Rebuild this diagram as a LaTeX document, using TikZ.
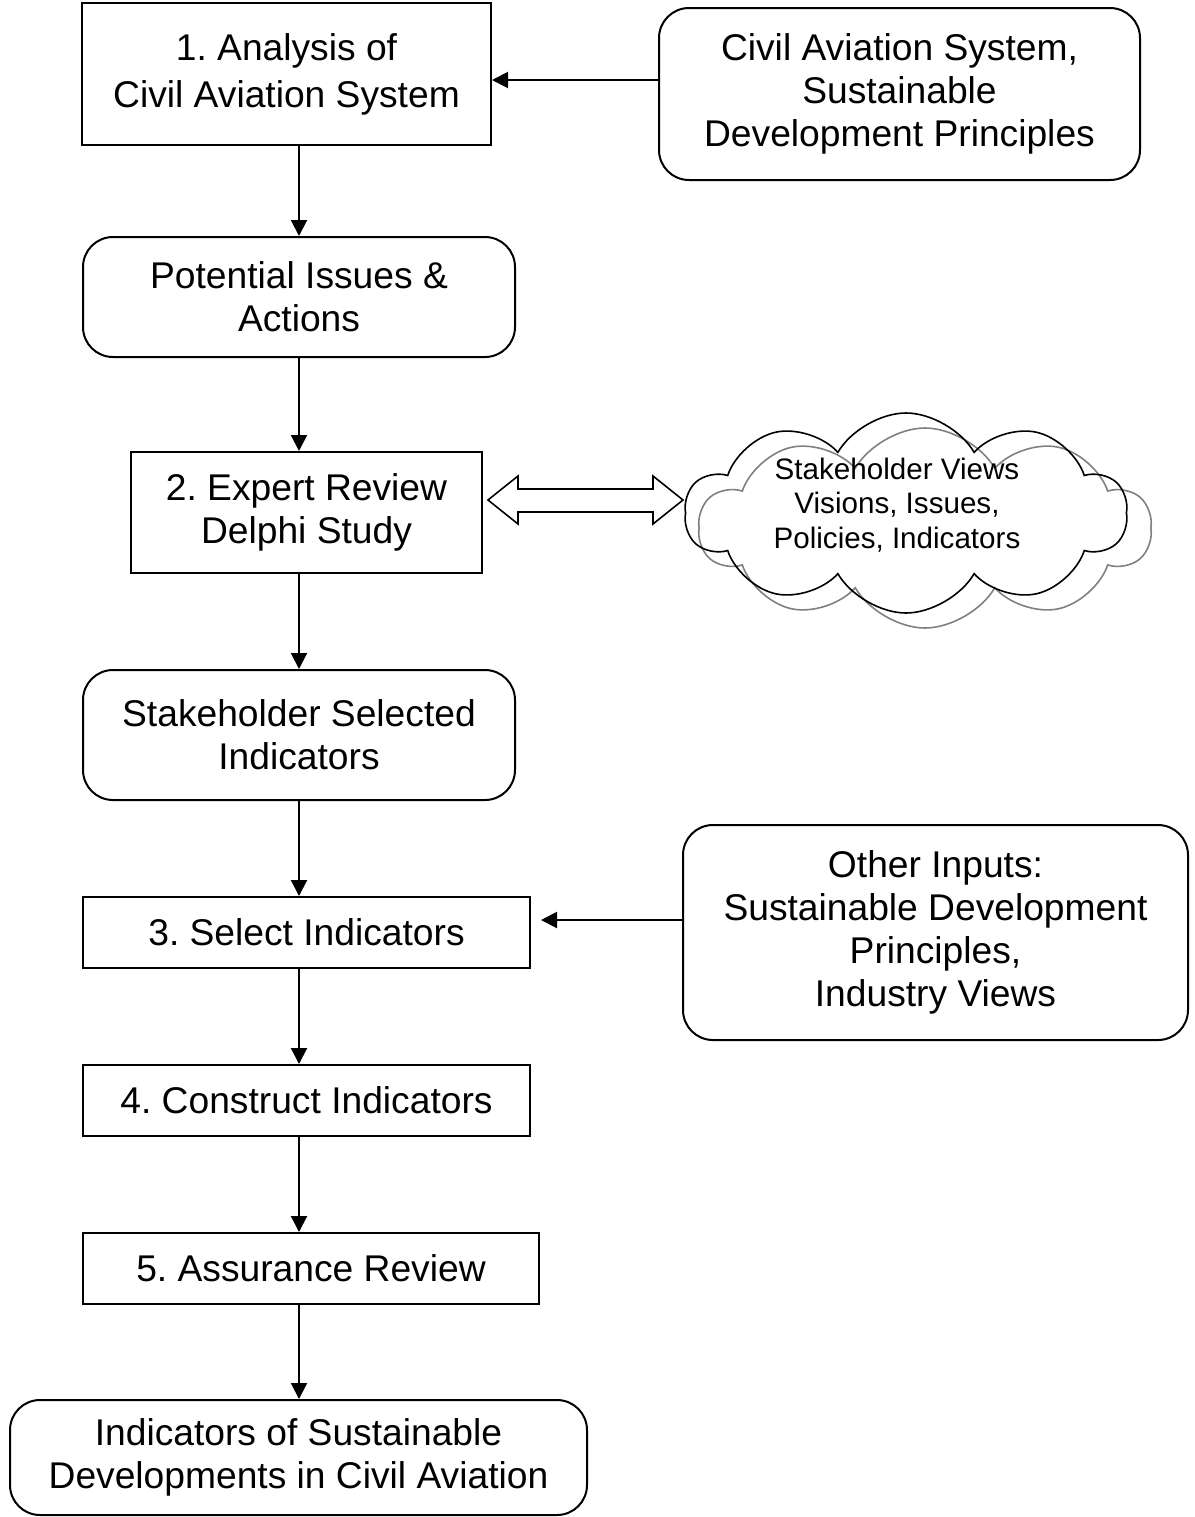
\documentclass[tikz,border=0pt]{standalone}
\usepackage{fontspec}
\setmainfont{Liberation Sans}
\usetikzlibrary{arrows.meta,shapes.symbols,calc}
\frenchspacing
\begin{document}
\begin{tikzpicture}[x=0.5pt,y=-0.5pt,
  box/.style={draw,line width=1pt,inner sep=0pt,align=center,
    font=\fontsize{18.6}{21.5}\selectfont},
  rbox/.style={box,rounded corners=15pt},
  arr/.style={-{Triangle[length=8pt,width=8pt]},line width=1pt},
  cloudshape/.style={cloud,cloud puffs=10,cloud puff arc=120,aspect=2.3,
    inner sep=0pt,line width=0.8pt}]
\useasboundingbox (0,0) rectangle (1195,1517);
\node[box,minimum width=204.5pt,minimum height=71pt,
  font=\fontsize{18.6}{23.5}\selectfont] (b1) at (286.5,74)
  {1. Analysis of\\Civil Aviation System};
\node[rbox,minimum width=240.5pt,minimum height=86pt] (r1) at (899.5,94)
  {Civil Aviation System,\\Sustainable\\Development Principles};
\node[rbox,minimum width=216pt,minimum height=60pt] (b2) at (299,297)
  {Potential Issues \&\\Actions};
\node[box,minimum width=175.5pt,minimum height=60.5pt] (b3) at (306.5,512.5)
  {2. Expert Review\\Delphi Study};
\node[rbox,minimum width=216pt,minimum height=65pt] (b4) at (299,735)
  {Stakeholder Selected\\Indicators};
\node[box,minimum width=223.5pt,minimum height=35.5pt] (b5) at (306.5,932.5)
  {3. Select Indicators};
\node[rbox,minimum width=252.5pt,minimum height=107.5pt] (r2) at (935.5,932.5)
  {Other Inputs:\\Sustainable Development\\Principles,\\Industry Views};
\node[box,minimum width=223.5pt,minimum height=35.5pt] (b6) at (306.5,1100.5)
  {4. Construct Indicators};
\node[box,minimum width=228pt,minimum height=35.5pt] (b7) at (311,1268.5)
  {5. Assurance Review};
\node[rbox,minimum width=288.5pt,minimum height=57.5pt] (b8) at (298.5,1457.5)
  {Indicators of Sustainable\\Developments in Civil Aviation};
% clouds
\node[cloudshape,draw=black!50,minimum width=226pt,minimum height=100pt] (c2) at (925,528) {};
\node[cloudshape,draw=black,minimum width=221pt,minimum height=100pt] (c1) at (906,513) {};
\node[align=center,inner sep=0pt,font=\fontsize{14.8}{17.25}\selectfont] (ct) at (897,505)
  {Stakeholder Views\\Visions, Issues,\\Policies, Indicators};
% double arrow
\draw[line width=0.8pt,fill=white] (488,500) -- (518,476) -- (518,489) -- (653,489) -- (653,476)
  -- (683,500) -- (653,524) -- (653,512) -- (518,512) -- (518,524) -- cycle;
% connectors
\draw[arr] (b1.south -| b2.north) -- (b2.north);
\draw[arr] (b2.south) -- (b2.south |- b3.north);
\draw[arr] (b3.south -| b4.north) -- (b4.north);
\draw[arr] (b4.south) -- (b4.south |- b5.north);
\draw[arr] (b5.south -| b4.south) -- (b6.north -| b4.south);
\draw[arr] (b6.south -| b4.south) -- (b7.north -| b4.south);
\draw[arr] (b7.south -| b4.south) -- (b8.north -| b4.south);
\draw[arr] ([yshift=7pt]r1.west) -- ([yshift=7pt]r1.west -| b1.east);
\draw[arr,shorten >=5pt] ([yshift=6.25pt]r2.west) -- ([yshift=6.25pt]r2.west -| b5.east);
\end{tikzpicture}
\end{document}
